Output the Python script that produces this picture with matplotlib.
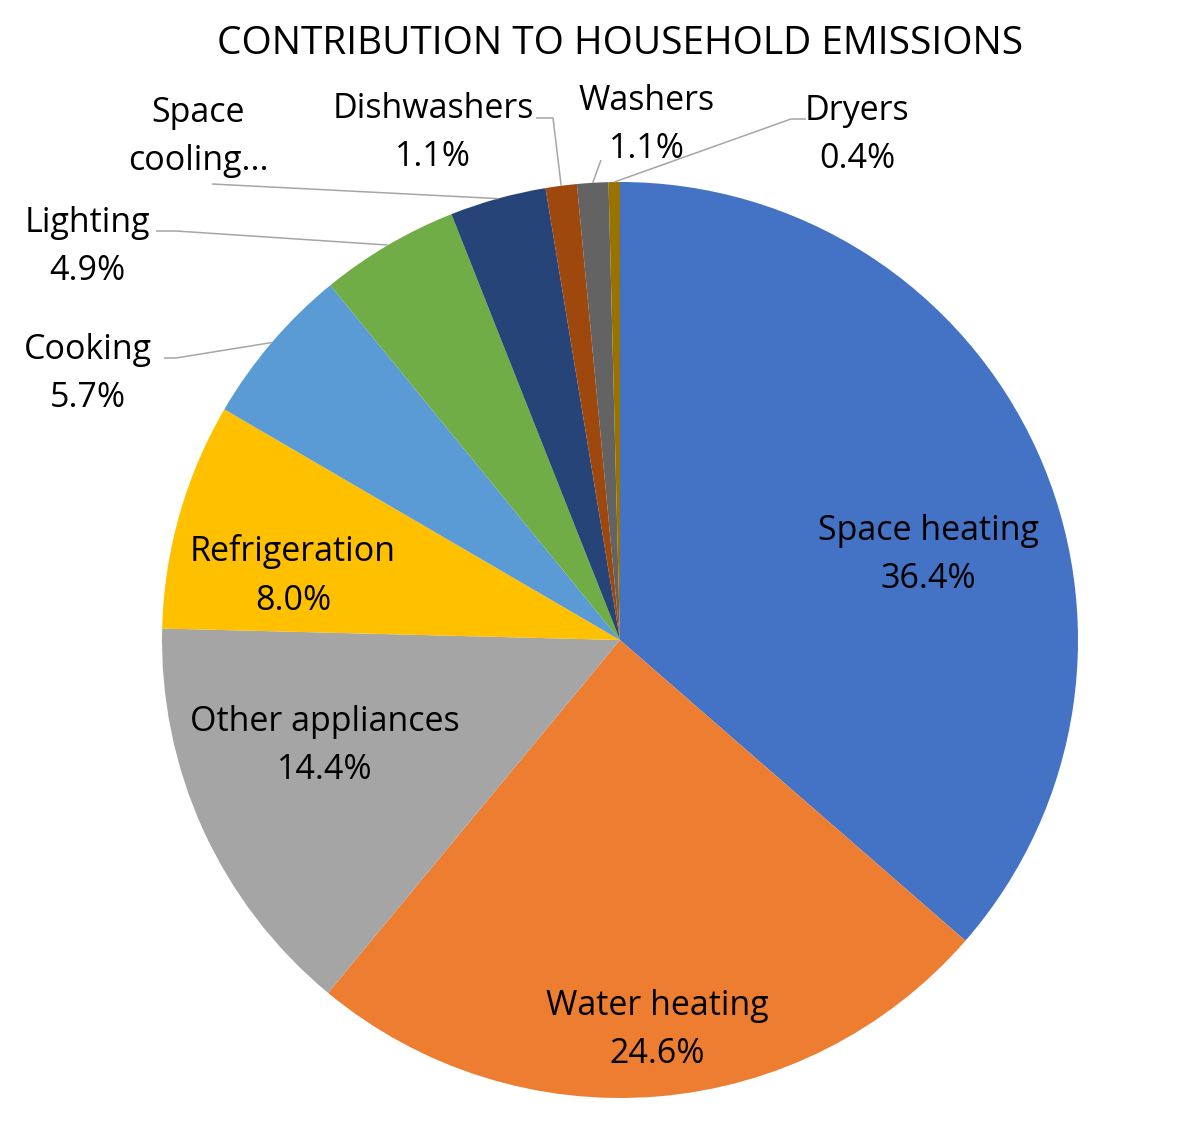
import matplotlib
matplotlib.use("Agg")
import matplotlib.pyplot as plt
import numpy as np

# data
categories = ["Space heating", "Water heating", "Other appliances", "Refrigeration",
              "Cooking", "Lighting", "Space cooling...", "Dishwashers", "Washers", "Dryers"]
values = [36.4, 24.6, 14.4, 8.0, 5.7, 4.9, 3.4, 1.1, 1.1, 0.4]
colors = ["#4472C4", "#ED7D31", "#A5A5A5", "#FFC000", "#5B9BD5",
          "#70AD47", "#264478", "#9E480E", "#636363", "#997300"]
title = "CONTRIBUTION TO HOUSEHOLD EMISSIONS"

W, H = 1200, 1134
plt.rcParams['font.family'] = ['Open Sans', 'DejaVu Sans']

fig = plt.figure(figsize=(W / 100, H / 100), dpi=100)
ax = fig.add_axes([0, 0, 1, 1])


def px(x, y):
    # pixel position (from top-left) to axes coords
    return x, H - y


cx, cy = px(620, 640)
R = 458
wedges, _ = ax.pie(values, colors=colors, startangle=90, counterclock=False,
                   radius=R, center=(cx, cy), frame=True,
                   wedgeprops=dict(linewidth=0))
ax.set_xlim(0, W)
ax.set_ylim(0, H)
ax.set_aspect('equal')
ax.axis('off')

# label layout: text center (px), leader line points (px) or None
layout = {
    "Space heating": ((928, 555), None),
    "Water heating": ((657, 1030), None),
    "Other appliances": ((325, 746), None),
    "Refrigeration": ((293, 576), None),
    "Cooking": ((88, 374), [(164, 358), (176, 358)]),
    "Lighting": ((87, 247), [(156, 231), (176, 231)]),
    "Space cooling...": ((198, 137), [(212, 184)]),
    "Dishwashers": ((433, 133), [(536, 118), (553, 118)]),
    "Washers": ((647, 125), [(601, 160)]),
    "Dryers": ((857, 135), [(806, 119), (791, 119)]),
}

fs = 24.5
for w, name, v in zip(wedges, categories, values):
    (tx, ty), line = layout[name]
    if name == "Space cooling...":
        label = "Space\ncooling..."
    else:
        label = f"{name}\n{v:.1f}%"
    ax.text(*px(tx, ty), label, ha='center', va='center', fontsize=fs,
            color='black', linespacing=1.56)
    if line is not None:
        ang = np.deg2rad((w.theta1 + w.theta2) / 2)
        ex, ey = cx + R * np.cos(ang), cy + R * np.sin(ang)
        pts = [px(*p) for p in line] + [(ex, ey)]
        ax.plot([p[0] for p in pts], [p[1] for p in pts], color='#A6A6A6', lw=1.1,
                solid_capstyle='butt')

ax.text(*px(620, 44), title, ha='center', va='center', fontsize=28, color='black')

fig.savefig("out.png", dpi=100)
